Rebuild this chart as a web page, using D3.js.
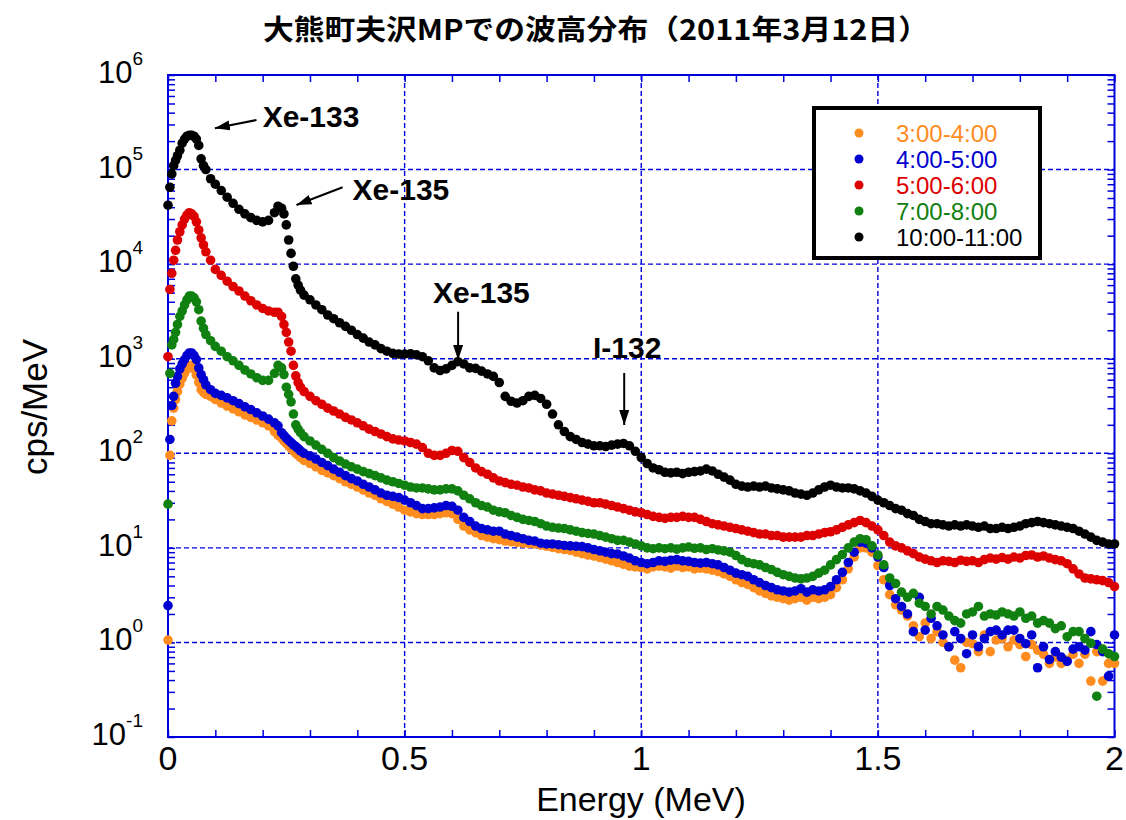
<!DOCTYPE html>
<html>
<head>
<meta charset="utf-8">
<script src="https://cdn.jsdelivr.net/npm/d3@7"></script>
<style>
	html, body { margin: 0; padding: 0; background: #fff; }
	svg { display: block; font-family: Arial, "Liberation Sans", sans-serif; }
</style>
</head>
<body>
<svg id="chart" width="1126" height="820"></svg>
<script>
var titleText = '大熊町夫沢MPでの波高分布（2011年3月12日）';
var xLabel = 'Energy (MeV)';
var yLabel = 'cps/MeV';

var seriesLabels = ['3:00-4:00', '4:00-5:00', '5:00-6:00', '7:00-8:00', '10:00-11:00'];

// energy of each channel (MeV)
var energies = [
	0, 0.004, 0.008, 0.012, 0.016, 0.02, 0.025, 0.03, 0.035, 0.04,
	0.045, 0.05, 0.055, 0.06, 0.065, 0.07, 0.075, 0.08, 0.09, 0.1,
	0.1125, 0.125, 0.1375, 0.15, 0.1625, 0.175, 0.1875, 0.2, 0.2125, 0.225,
	0.2325, 0.24, 0.245, 0.25, 0.255, 0.26, 0.265, 0.27, 0.275, 0.28,
	0.2875, 0.3, 0.3125, 0.325, 0.3375, 0.35, 0.3625, 0.375, 0.3875, 0.4,
	0.4125, 0.425, 0.4375, 0.45, 0.4625, 0.475, 0.4875, 0.5, 0.5125, 0.525,
	0.5375, 0.55, 0.5625, 0.575, 0.5875, 0.6, 0.6125, 0.625, 0.6375, 0.65,
	0.6625, 0.675, 0.6875, 0.7, 0.7125, 0.725, 0.7375, 0.75, 0.7625, 0.775,
	0.7875, 0.8, 0.8125, 0.825, 0.8375, 0.85, 0.8625, 0.875, 0.8875, 0.9,
	0.9125, 0.925, 0.9375, 0.95, 0.9625, 0.975, 0.9875, 1.0, 1.0125, 1.025,
	1.0375, 1.05, 1.0625, 1.075, 1.0875, 1.1, 1.1125, 1.125, 1.1375, 1.15,
	1.1625, 1.175, 1.1875, 1.2, 1.2125, 1.225, 1.2375, 1.25, 1.2625, 1.275,
	1.2875, 1.3, 1.3125, 1.325, 1.3375, 1.35, 1.3625, 1.375, 1.3875, 1.4,
	1.4125, 1.425, 1.4375, 1.45, 1.4625, 1.475, 1.4875, 1.5, 1.5125, 1.525,
	1.5375, 1.55, 1.5625, 1.575, 1.5875, 1.6, 1.6125, 1.625, 1.6375, 1.65,
	1.6625, 1.675, 1.6875, 1.7, 1.7125, 1.725, 1.7375, 1.75, 1.7625, 1.775,
	1.7875, 1.8, 1.8125, 1.825, 1.8375, 1.85, 1.8625, 1.875, 1.8875, 1.9,
	1.9125, 1.925, 1.9375, 1.95, 1.9625, 1.975, 1.9875, 2.0
];

// cps/MeV, 3:00-4:00
var h0300 = [
	1.06, 95, 220, 300, 370, 450, 540, 620, 700, 780,
	820, 850, 780, 670, 560, 470, 440, 420, 400, 370,
	340, 315, 295, 275, 255, 240, 225, 210, 195, 170,
	155, 145, 135, 127, 120, 113, 106, 100, 95, 90,
	84, 78, 72, 66, 62, 58, 54, 50, 47, 44,
	41, 38, 36, 33, 31, 29, 27, 25, 24, 23,
	22.5, 22.5, 22.5, 23, 23.5, 23, 20, 17, 15.5, 14.5,
	13.5, 13, 12.5, 12.2, 11.8, 11.6, 11.4, 11.2, 11.1, 11.0,
	10.7, 10.4, 10.1, 9.8, 9.6, 9.4, 9.0, 8.7, 8.4, 8.2,
	7.9, 7.6, 7.3, 7.0, 6.7, 6.4, 6.3, 6.2, 6.0, 6.3,
	6.4, 6.3, 6.1, 6.4, 6.2, 6.3, 6.0, 6.1, 6.0, 5.8,
	5.6, 5.3, 5.0, 4.6, 4.3, 4.1, 3.8, 3.5, 3.3, 3.1,
	3.0, 2.9, 2.8, 2.9, 3.0, 2.8, 3.0, 2.9, 3.0, 3.2,
	3.8, 4.6, 6.0, 8.0, 10.0, 10.0, 9.0, 6.5, 4.6, 3.2,
	2.5, 2.2, 1.9, 1.5, 1.15, 1.6, 1.1, 1.3, 1.0, 0.9,
	0.65, 0.54, 1.0, 0.97, 0.8, 1.2, 0.8, 1.06, 1.1, 0.9,
	1.06, 0.95, 0.71, 0.95, 0.83, 0.75, 0.6, 0.7, 0.6, 0.65,
	0.75, 0.6, 0.75, 0.39, 0.8, 0.39, 0.6, 0.6
];

// cps/MeV, 4:00-5:00
var h0400 = [
	2.45, 140, 320, 400, 550, 650, 780, 880, 980, 1080,
	1150, 1150, 1080, 980, 800, 680, 600, 530, 470, 430,
	410, 385, 360, 335, 310, 290, 268, 248, 230, 210,
	195, 165, 155, 145, 137, 130, 123, 118, 112, 106,
	100, 94, 87, 80, 74, 68, 63, 58, 54, 51,
	47, 44, 41, 38, 36, 35, 34, 32, 30, 28,
	26, 26, 26.5, 27, 28, 27.5, 25, 21, 19, 17,
	16, 15.5, 15, 15, 14, 13.5, 13, 12.5, 12, 11.8,
	11.2, 11.0, 11.0, 10.8, 10.6, 10.5, 10.4, 10.3, 10.0, 9.6,
	9.3, 9.0, 8.7, 8.6, 8.2, 7.8, 7.3, 7.0, 6.8, 7.0,
	7.3, 7.2, 7.4, 7.5, 7.3, 7.2, 7.0, 6.9, 7.0, 6.8,
	6.6, 6.2, 5.8, 5.4, 5.2, 5.0, 4.6, 4.3, 4.0, 3.8,
	3.6, 3.5, 3.4, 3.5, 3.7, 3.4, 3.6, 3.5, 3.6, 3.9,
	4.6, 5.5, 7.0, 9.0, 11.5, 11.2, 10.0, 8.0, 6.2, 4.0,
	2.9, 2.4, 2.0, 1.3, 3.0, 1.35, 1.8, 1.5, 1.2, 0.9,
	1.3, 1.1, 0.76, 1.2, 0.9, 1.1, 1.3, 1.35, 1.2, 1.35,
	1.35, 1.1, 0.97, 1.2, 0.54, 0.9, 0.66, 0.8, 0.7, 0.63,
	0.85, 0.9, 0.83, 1.3, 0.95, 0.8, 0.44, 1.2
];

// cps/MeV, 5:00-6:00
var h0500 = [
	1050, 5400, 8000, 11000, 14000, 18000, 22000, 26000, 30000, 33000,
	35000, 34000, 32000, 28000, 23000, 19000, 16000, 13500, 11000, 8800,
	7600, 6600, 5800, 5200, 4600, 4100, 3700, 3400, 3200, 3100,
	3100, 2800, 2300, 1900, 1500, 1200, 850, 660, 560, 500,
	450, 400, 360, 330, 300, 280, 260, 240, 225, 210,
	195, 180, 170, 160, 150, 142, 138, 135, 130, 125,
	115, 100, 95, 95, 100, 107, 105, 90, 80, 70,
	64, 60, 55, 51, 49, 47, 46, 44, 43, 41,
	40, 38, 37, 36, 35, 34, 33, 32, 31, 30,
	30, 29, 28, 27, 26, 25, 24, 23.5, 22.5, 21.5,
	21, 20.5, 21, 21, 21.5, 21, 21, 20, 19, 18,
	17.5, 17, 16.5, 16, 15.5, 15, 14.5, 14, 14, 13.5,
	13.5, 13, 13, 13, 13, 13.5, 13.5, 14, 14.5, 14.8,
	15.5, 16.5, 17.5, 18.5, 19.5, 18.5, 17, 15.5, 13.5, 11.5,
	10.5, 10, 9.3, 8.7, 8.0, 7.6, 7.3, 7.0, 7.3, 7.2,
	7.0, 7.4, 7.2, 7.3, 7.0, 7.5, 7.8, 7.6, 7.9, 7.6,
	8.0, 7.8, 8.3, 8.4, 8.0, 8.2, 7.8, 7.5, 7.3, 6.8,
	6.0, 5.3, 4.8, 4.7, 4.6, 4.5, 4.3, 3.9
];

// cps/MeV, 7:00-8:00
var h0700 = [
	29, 700, 1400, 1600, 1900, 2300, 2800, 3200, 3700, 4200,
	4600, 4600, 4400, 4000, 3300, 2500, 2100, 1800, 1550, 1350,
	1200, 1050, 950, 850, 760, 690, 630, 590, 590, 700,
	850, 800, 680, 500, 420, 350, 260, 200, 180, 165,
	150, 135, 122, 110, 100, 90, 83, 77, 72, 68,
	64, 61, 58, 55, 52, 50, 48, 46, 44, 43,
	43, 42, 41, 41, 42, 42, 40, 36, 33, 30,
	28, 27, 25, 24, 23.5, 22, 21, 20, 19.5, 19,
	18, 17, 16.5, 16.2, 16, 15.5, 15, 14.5, 14.2, 14,
	13.5, 13, 12.5, 12, 12, 11.5, 11, 10.5, 10, 9.8,
	10, 9.8, 10, 9.7, 10, 10.2, 9.9, 10, 9.6, 9.8,
	9.5, 9.3, 9.0, 8.3, 7.5, 7.0, 6.8, 6.6, 6.2, 5.9,
	5.5, 5.2, 5.0, 4.8, 4.7, 4.8, 5.0, 5.4, 5.8, 6.6,
	7.5, 8.5, 10.0, 11.5, 12.5, 12.2, 10.5, 8.4, 6.6, 4.8,
	4.2, 3.4, 3.0, 3.3, 2.6, 2.4, 2.0, 2.4, 2.2, 1.9,
	1.7, 1.6, 2.0, 2.1, 2.4, 1.9, 2.0, 1.95, 2.1, 2.0,
	1.9, 2.1, 1.8, 1.9, 1.6, 1.7, 1.6, 1.4, 1.5, 1.15,
	1.3, 1.3, 1.1, 0.98, 0.27, 0.85, 0.76, 0.71
];

// cps/MeV, 10:00-11:00
var h1000 = [
	42000, 65000, 90000, 110000, 125000, 140000, 160000, 190000, 210000, 225000,
	230000, 230000, 225000, 210000, 180000, 130000, 110000, 100000, 80000, 70000,
	60000, 51000, 44000, 38000, 34000, 31000, 29000, 28000, 29000, 35000,
	41000, 39000, 34000, 26000, 18000, 13000, 9500, 7000, 6000, 5300,
	4700, 4200, 3700, 3300, 2900, 2650, 2400, 2200, 2000, 1800,
	1650, 1500, 1400, 1280, 1200, 1140, 1120, 1120, 1130, 1100,
	1050, 950, 800, 750, 780, 850, 930, 880, 800, 790,
	740, 690, 650, 560, 400, 355, 340, 360, 400, 410,
	380, 330, 260, 200, 170, 150, 140, 130, 125, 120,
	120, 118, 122, 125, 127, 120, 105, 90, 78, 70,
	67, 63, 62, 63, 61, 63, 64, 65, 68, 65,
	60, 56, 52, 47, 45, 44, 45, 44, 45, 43,
	42, 41, 40, 38, 37, 36, 38, 41, 44, 46,
	44, 43, 43, 42, 40, 38, 35, 32, 30, 28,
	26, 25, 23, 22, 20, 19, 18, 18, 17.5, 17,
	17.5, 17, 17.5, 17, 16.5, 17, 16, 16, 16.5, 16,
	16.5, 17, 18, 18.5, 19, 18.5, 18, 17.5, 17, 16.5,
	16, 15, 14, 13, 12, 11.5, 11, 11
];

var xTickValues = [0, 0.5, 1, 1.5, 2];
var yDecades = [-1, 0, 1, 2, 3, 4, 5, 6];

// peak labels: where the text sits and where the arrow runs (energy, cps/MeV)
var peakLabels = ['Xe-133', 'Xe-135', 'Xe-135', 'I-132'];
var peakTextAt = [[0.2, 2.84e5], [0.39, 4.77e4], [0.56, 3.86e3], [0.898, 1.02e3]];
var peakArrowFrom = [[0.187, 3.34e5], [0.369, 6.5e4], [0.613, 3.14e3], [0.964, 706]];
var peakArrowTo = [[0.099, 2.73e5], [0.2715, 4.22e4], [0.613, 968], [0.964, 199]];

(function(){
	'use strict';

	var series = [h0300, h0400, h0500, h0700, h1000];
	var colors = ['#ff8c1e', '#0000d0', '#dd0000', '#108010', '#000000'];
	var axisColor = '#0000dd';

	series.forEach(function(s){
		if (s.length !== energies.length) {
			throw new Error('length mismatch: ' + series.map(function(a){ return a.length; }).join(',') + ' vs ' + energies.length);
		}
	});

	var svg = d3.select('#chart');
	var left = 168, right = 1114.5, top = 75, bottom = 737;

	var x = d3.scaleLinear().domain([0, 2]).range([left, right]);
	var y = d3.scaleLog().domain([0.1, 1e6]).range([bottom, top]);

	// title
	svg.append('text')
		.attr('x', 596)
		.attr('y', 40)
		.attr('text-anchor', 'middle')
		.attr('font-family', '"Noto Sans CJK JP", sans-serif')
		.attr('font-weight', 'bold')
		.attr('font-size', 28)
		.attr('textLength', 666)
		.attr('lengthAdjust', 'spacingAndGlyphs')
		.text(titleText);

	// dashed grid
	var grid = svg.append('g')
		.attr('stroke', axisColor)
		.attr('stroke-width', 1.4)
		.attr('stroke-dasharray', '5,3');

	grid.selectAll('.gx')
		.data(xTickValues.slice(1, -1))
		.enter()
		.append('line')
			.attr('x1', (d) => x(d))
			.attr('x2', (d) => x(d))
			.attr('y1', top)
			.attr('y2', bottom);

	grid.selectAll('.gy')
		.data(yDecades.slice(1, -1))
		.enter()
		.append('line')
			.attr('x1', left)
			.attr('x2', right)
			.attr('y1', (d) => y(Math.pow(10, d)))
			.attr('y2', (d) => y(Math.pow(10, d)));

	// inward ticks on all four sides
	var xMinor = d3.range(0, 2.001, 0.1);
	var yMinor = y.ticks();

	function styleTicks(g){
		g.select('.domain').remove();
		g.selectAll('line').attr('stroke', axisColor).attr('stroke-width', 1.5);
	}

	svg.append('g')
		.attr('transform', 'translate(0,' + bottom + ')')
		.call(d3.axisBottom(x).tickValues(xMinor).tickSize(-7).tickFormat(''))
		.call(styleTicks);
	svg.append('g')
		.attr('transform', 'translate(0,' + top + ')')
		.call(d3.axisTop(x).tickValues(xMinor).tickSize(-7).tickFormat(''))
		.call(styleTicks);
	svg.append('g')
		.attr('transform', 'translate(' + left + ',0)')
		.call(d3.axisLeft(y).tickValues(yMinor).tickSize(-7).tickFormat(''))
		.call(styleTicks);
	svg.append('g')
		.attr('transform', 'translate(' + right + ',0)')
		.call(d3.axisRight(y).tickValues(yMinor).tickSize(-7).tickFormat(''))
		.call(styleTicks);

	// frame
	svg.append('rect')
		.attr('x', left)
		.attr('y', top)
		.attr('width', right - left)
		.attr('height', bottom - top)
		.attr('fill', 'none')
		.attr('stroke', axisColor)
		.attr('stroke-width', 2);

	// tick labels
	svg.append('g')
		.selectAll('text')
		.data(xTickValues)
		.enter()
		.append('text')
			.attr('x', (d) => x(d))
			.attr('y', 770)
			.attr('text-anchor', 'middle')
			.attr('font-size', 34)
			.text((d) => d);

	var yl = svg.append('g')
		.selectAll('text')
		.data(yDecades)
		.enter()
		.append('text')
			.attr('x', 143)
			.attr('y', (d) => y(Math.pow(10, d)) + 8)
			.attr('text-anchor', 'end')
			.attr('font-size', 31);
	yl.append('tspan').text('10');
	yl.append('tspan')
		.attr('dy', -18)
		.attr('font-size', 19)
		.text((d) => d);

	// axis titles
	svg.append('text')
		.attr('x', 641)
		.attr('y', 811)
		.attr('text-anchor', 'middle')
		.attr('font-size', 34)
		.text(xLabel);

	svg.append('text')
		.attr('transform', 'translate(47,407) rotate(-90)')
		.attr('text-anchor', 'middle')
		.attr('font-size', 35)
		.text(yLabel);

	// data points
	series.forEach(function(vals, si){
		svg.append('g')
			.attr('fill', colors[si])
			.selectAll('circle')
			.data(vals)
			.enter()
			.append('circle')
				.attr('cx', (d, i) => x(energies[i]))
				.attr('cy', (d) => y(d))
				.attr('r', 4.8);
	});

	// peak annotations
	svg.append('defs')
		.append('marker')
			.attr('id', 'head')
			.attr('markerUnits', 'userSpaceOnUse')
			.attr('markerWidth', 16)
			.attr('markerHeight', 12)
			.attr('refX', 15)
			.attr('refY', 5)
			.attr('orient', 'auto')
		.append('path')
			.attr('d', 'M0,0 L15,5 L0,10 Z')
			.attr('fill', '#000');

	var notes = svg.append('g');
	notes.selectAll('line')
		.data(peakLabels)
		.enter()
		.append('line')
			.attr('x1', (d, i) => x(peakArrowFrom[i][0]))
			.attr('y1', (d, i) => y(peakArrowFrom[i][1]))
			.attr('x2', (d, i) => x(peakArrowTo[i][0]))
			.attr('y2', (d, i) => y(peakArrowTo[i][1]))
			.attr('stroke', '#000')
			.attr('stroke-width', 2)
			.attr('marker-end', 'url(#head)');
	notes.selectAll('text')
		.data(peakLabels)
		.enter()
		.append('text')
			.attr('x', (d, i) => x(peakTextAt[i][0]))
			.attr('y', (d, i) => y(peakTextAt[i][1]))
			.attr('font-size', 30)
			.attr('font-weight', 'bold')
			.text((d) => d);

	// legend
	var lx = 814, ly = 108;
	var legend = svg.append('g');
	legend.append('rect')
		.attr('x', lx)
		.attr('y', ly)
		.attr('width', 226)
		.attr('height', 150)
		.attr('fill', '#fff')
		.attr('stroke', '#000')
		.attr('stroke-width', 4);

	var rows = legend.selectAll('g.row')
		.data(seriesLabels)
		.enter()
		.append('g')
			.attr('transform', (d, i) => 'translate(0,' + (ly + 25 + i * 26) + ')');
	rows.append('circle')
		.attr('cx', lx + 45)
		.attr('cy', 0)
		.attr('r', 4.5)
		.attr('fill', (d, i) => colors[i]);
	rows.append('text')
		.attr('x', lx + 82)
		.attr('y', 8.5)
		.attr('font-size', 24)
		.attr('fill', (d, i) => colors[i])
		.text((d) => d);
})();
</script>
</body>
</html>
